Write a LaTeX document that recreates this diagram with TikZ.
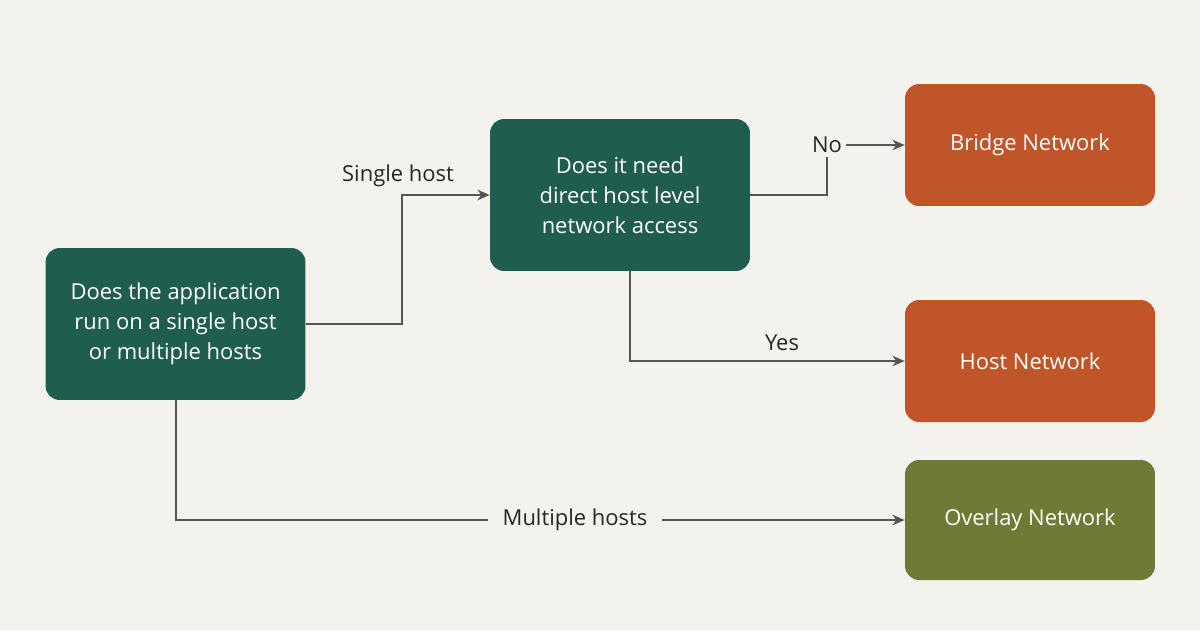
\documentclass[tikz,border=0pt]{standalone}
\usepackage{fontspec}
\setmainfont{Open Sans}
\usetikzlibrary{arrows.meta}
\definecolor{bgcol}{HTML}{F4F2EC}
\definecolor{qgreen}{HTML}{1F5E4E}
\definecolor{rorange}{HTML}{C0552A}
\definecolor{rolive}{HTML}{6E7B36}
\definecolor{linecol}{HTML}{555555}
\tikzset{
  box/.style={rounded corners=8pt, text=white, align=center, font=\fontsize{12.5}{17}\selectfont, inner sep=0pt},
  question/.style={box, fill=qgreen, minimum width=5.2cm, minimum height=3.04cm},
  result/.style={box, fill=rorange, minimum width=5cm, minimum height=2.44cm},
  lbl/.style={font=\fontsize{12.5}{17}\selectfont, text=black!85, inner sep=2pt},
  line/.style={draw=linecol, line width=1.3pt},
  conn/.style={line, -{Stealth[length=7pt,width=6pt]}}
}
\begin{document}
\begin{tikzpicture}[x=0.02cm, y=-0.02cm]
    % --- Sfondo ---
    \fill[bgcol] (0,0) rectangle (1200,630);
    \useasboundingbox (0,0) rectangle (1200,630);

    % --- Domande ---
    \node[question] (app) at (175.5,324) {Does the application\\run on a single host\\or multiple hosts};
    \node[question] (access) at (620,195) {Does it need\\direct host level\\network access};

    % --- Risultati ---
    \node[result] (bridge) at (1030,145) {Bridge Network};
    \node[result] (host) at (1030,361) {Host Network};
    \node[result, fill=rolive, minimum height=2.4cm] (overlay) at (1030,520) {Overlay Network};

    % --- Etichette ---
    \node[lbl] (single) at (398,176) {Single host};
    \node[lbl] (no) at (827,145) {No};
    \node[lbl] (yes) at (782,343) {Yes};
    \node[lbl, inner xsep=8pt] (multi) at (575,520) {Multiple hosts};

    % --- Collegamenti ---
    \draw[conn] (app.east) -- (402,324) |- (access.west);
    \draw[line] (access.east) -| (no.south);
    \draw[conn] (no.east) -- (bridge.west);
    \draw[conn] (630,271) |- (host.west);
    \draw[line] (176,400) |- (multi.west);
    \draw[conn] (multi.east) -- (overlay.west);
\end{tikzpicture}
\end{document}
